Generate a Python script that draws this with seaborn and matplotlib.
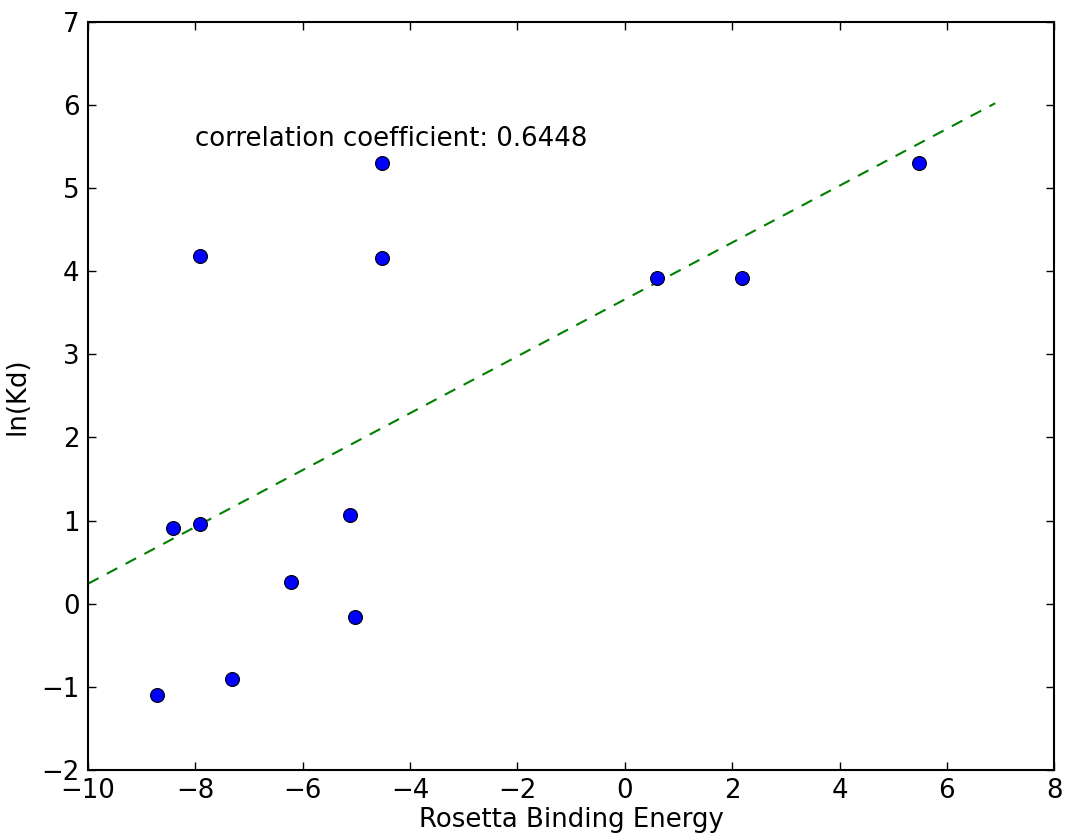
import numpy as np
import pandas as pd
import seaborn as sns
import matplotlib.pyplot as plt

# Values
binding_energy = [-8.71, -8.42, -7.91, -7.91, -7.32, -6.22, -5.12, -5.03, -4.52, -4.52, 0.60, 2.19, 5.48]
ln_kd = [-1.10, 0.91, 0.96, 4.18, -0.91, 0.26, 1.07, -0.16, 5.30, 4.16, 3.92, 3.92, 5.30]
fit_x = [-10.0, 6.9]
fit_slope = 0.342
fit_intercept = 3.66
corr_label = 'correlation coefficient: 0.6448'

df = pd.DataFrame({'energy': binding_energy, 'lnkd': ln_kd})
fit_df = pd.DataFrame({'x': fit_x})
fit_df['y'] = fit_slope * fit_df['x'] + fit_intercept

sns.set_style('white')
plt.rcParams['font.family'] = ['DejaVu Sans']
plt.rcParams['font.size'] = 18.7
plt.rcParams['text.color'] = 'black'
plt.rcParams['axes.labelcolor'] = 'black'
plt.rcParams['xtick.color'] = 'black'
plt.rcParams['ytick.color'] = 'black'

fig = plt.figure(figsize=(10.66, 8.36), dpi=100)
ax = fig.add_axes([0.0826, 0.079, 0.9064, 0.895])

sns.lineplot(x='x', y='y', data=fit_df, ax=ax, color='#008000', linewidth=1.5,
             linestyle=(0, (5.7, 4.5)))
sns.scatterplot(x='energy', y='lnkd', data=df, ax=ax, color='#0000ff', s=100,
                edgecolor='black', linewidth=0.8, zorder=3)

ax.text(-8.0, 5.5, corr_label, fontsize=18.7, color='black')

ax.set_xlim(-10, 8)
ax.set_ylim(-2, 7)
ax.set_xticks(np.arange(-10, 9, 2))
ax.set_yticks(np.arange(-2, 8, 1))
ax.set_xlabel('Rosetta Binding Energy', fontsize=18.7, labelpad=2)
ax.set_ylabel('ln(Kd)', fontsize=18.7, labelpad=8)
ax.tick_params(direction='in', length=6, width=1, labelsize=18.7, top=True, right=True,
               bottom=True, left=True, pad=6)
for sp in ax.spines.values():
    sp.set_linewidth(1.5)
    sp.set_color('black')

fig.savefig('out.png', dpi=100)
